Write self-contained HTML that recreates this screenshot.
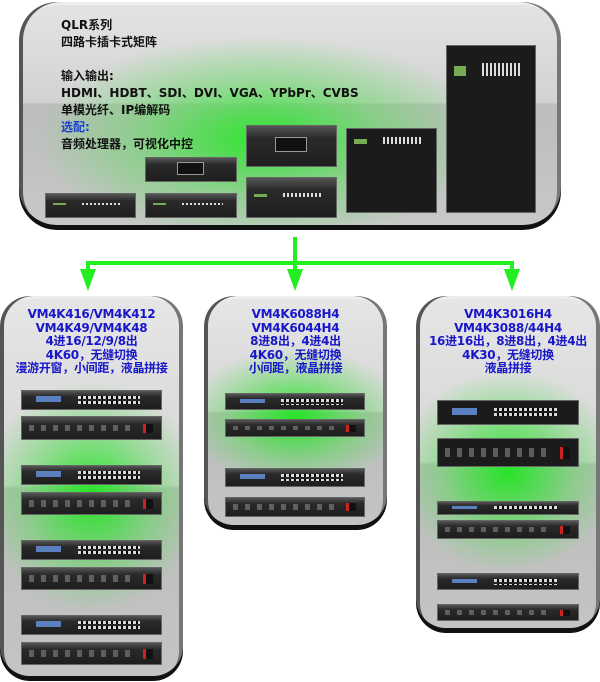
<!DOCTYPE html>
<html><head><meta charset="utf-8"><style>
*{margin:0;padding:0;box-sizing:border-box}
body{width:600px;height:682px;background:#fff;position:relative;overflow:hidden;font-family:"DejaVu Sans","Noto Sans CJK SC",sans-serif}
.box{position:absolute;border-radius:38px;overflow:hidden;
background:radial-gradient(ellipse 42% 45% at 45% 60%,rgba(40,230,40,.95),rgba(90,220,90,.5) 55%,rgba(0,0,0,0) 100%),linear-gradient(#e4e4e4,#d2d2d2 44%,#bdbdbd 45%,#c8c8c8 100%);
box-shadow:inset 0 -5px 0 #111,inset 4px 0 0 #555,inset -4px 0 0 #777,inset 0 3px 0 #eee}
.panel{border-radius:30px;
background:radial-gradient(ellipse 60% 30% at 50% 52%,rgba(30,230,30,.95),rgba(80,220,80,.45) 60%,rgba(0,0,0,0) 100%),linear-gradient(#e6e6e6,#d6d6d6 49%,#bdbdbd 50%,#c4c4c4)}
.t{position:absolute;font-weight:bold;font-size:12px;line-height:17px;color:#111;white-space:nowrap}
.b{position:absolute;font-weight:bold;font-size:12px;line-height:13.5px;color:#1717c8;text-align:center;white-space:nowrap;letter-spacing:-0.3px}
.d{position:absolute;background:linear-gradient(#555,#2a2a2a 30%,#1e1e1e);border:1px solid #666}
.f::after{content:"";position:absolute;left:40%;top:30%;width:45%;height:40%;background:repeating-linear-gradient(90deg,#eee 0 3px,transparent 3px 5px),#000;opacity:.9;
-webkit-mask:repeating-linear-gradient(#000 0 3px,transparent 3px 5px);mask:repeating-linear-gradient(#000 0 3px,transparent 3px 5px)}
.f::before{content:"";position:absolute;left:10%;top:30%;width:18%;height:30%;background:#5a80c0}
.k::before{content:"";position:absolute;right:6%;top:30%;width:5%;height:45%;background:#111;border-left:3px solid #c22}
.k::after{content:"";position:absolute;left:5%;top:35%;width:75%;height:30%;background:repeating-linear-gradient(90deg,#777 0 5px,transparent 5px 12px);opacity:.7}
.g::before{content:"";position:absolute;left:8%;top:40%;width:14%;height:8%;background:#7a5}
.g::after{content:"";position:absolute;left:40%;top:38%;width:45%;height:12%;background:repeating-linear-gradient(90deg,#ddd 0 2px,transparent 2px 4px)}
.r{background:#1b1b1b}
.r.g::before{top:12%;height:6%}
.r.g::after{top:10%;height:8%}
</style></head><body>

<div class="box" style="left:19px;top:2px;width:542px;height:228px"></div>
<div class="t" style="left:61px;top:17px">QLR系列<br>四路卡插卡式矩阵</div>
<div class="t" style="left:61px;top:68px">输入输出:<br>HDMI、HDBT、SDI、DVI、VGA、YPbPr、CVBS<br>单模光纤、IP编解码<br><span style="color:#1a3fd0">选配:</span><br>音频处理器，可视化中控</div>

<div class="d r g" style="left:446px;top:45px;width:90px;height:168px"></div>
<div class="d r g" style="left:346px;top:128px;width:91px;height:85px"></div>
<div class="d" style="left:246px;top:125px;width:91px;height:42px"></div>
<div style="position:absolute;left:275px;top:137px;width:32px;height:15px;background:#111;border:1px solid #999"></div>
<div class="d g" style="left:246px;top:177px;width:91px;height:41px"></div>
<div class="d" style="left:145px;top:157px;width:92px;height:25px"></div>
<div style="position:absolute;left:177px;top:162px;width:27px;height:13px;background:#111;border:1px solid #999"></div>
<div class="d g" style="left:145px;top:193px;width:92px;height:25px"></div>
<div class="d g" style="left:45px;top:193px;width:91px;height:25px"></div>

<svg style="position:absolute;left:0;top:0" width="600" height="300">
<g fill="#22ee22" stroke="none">
<rect x="293" y="237" width="4" height="36"/>
<rect x="86" y="261" width="428" height="4"/>
<rect x="86" y="261" width="4" height="10"/>
<rect x="510" y="261" width="4" height="10"/>
<polygon points="80,269 96,269 88,291"/>
<polygon points="287,269 303,269 295,291"/>
<polygon points="504,269 520,269 512,291"/>
</g></svg>

<div class="box panel" style="left:0;top:296px;width:183px;height:385px"></div>
<div class="box panel" style="left:204px;top:296px;width:183px;height:234px"></div>
<div class="box panel" style="left:416px;top:296px;width:184px;height:337px"></div>

<div class="b" style="left:0;width:183px;top:308px">VM4K416/VM4K412<br>VM4K49/VM4K48<br>4进16/12/9/8出<br>4K60，无缝切换<br>漫游开窗，小间距，液晶拼接</div>
<div class="b" style="left:204px;width:183px;top:308px">VM4K6088H4<br>VM4K6044H4<br>8进8出，4进4出<br>4K60，无缝切换<br>小间距，液晶拼接</div>
<div class="b" style="left:416px;width:184px;top:308px">VM4K3016H4<br>VM4K3088/44H4<br>16进16出，8进8出，4进4出<br>4K30，无缝切换<br>液晶拼接</div>

<div class="d f" style="left:21px;top:390px;width:141px;height:20px"></div>
<div class="d k" style="left:21px;top:416px;width:141px;height:24px"></div>
<div class="d f" style="left:21px;top:465px;width:141px;height:20px"></div>
<div class="d k" style="left:21px;top:492px;width:141px;height:23px"></div>
<div class="d f" style="left:21px;top:540px;width:141px;height:20px"></div>
<div class="d k" style="left:21px;top:567px;width:141px;height:23px"></div>
<div class="d f" style="left:21px;top:615px;width:141px;height:20px"></div>
<div class="d k" style="left:21px;top:642px;width:141px;height:23px"></div>

<div class="d f" style="left:225px;top:393px;width:140px;height:17px"></div>
<div class="d k" style="left:225px;top:419px;width:140px;height:18px"></div>
<div class="d f" style="left:225px;top:468px;width:140px;height:19px"></div>
<div class="d k" style="left:225px;top:497px;width:140px;height:20px"></div>

<div class="d r f" style="left:437px;top:400px;width:142px;height:25px"></div>
<div class="d r k" style="left:437px;top:438px;width:142px;height:29px"></div>
<div class="d f" style="left:437px;top:501px;width:142px;height:14px"></div>
<div class="d k" style="left:437px;top:520px;width:142px;height:19px"></div>
<div class="d f" style="left:437px;top:573px;width:142px;height:17px"></div>
<div class="d k" style="left:437px;top:604px;width:142px;height:17px"></div>
</body></html>
